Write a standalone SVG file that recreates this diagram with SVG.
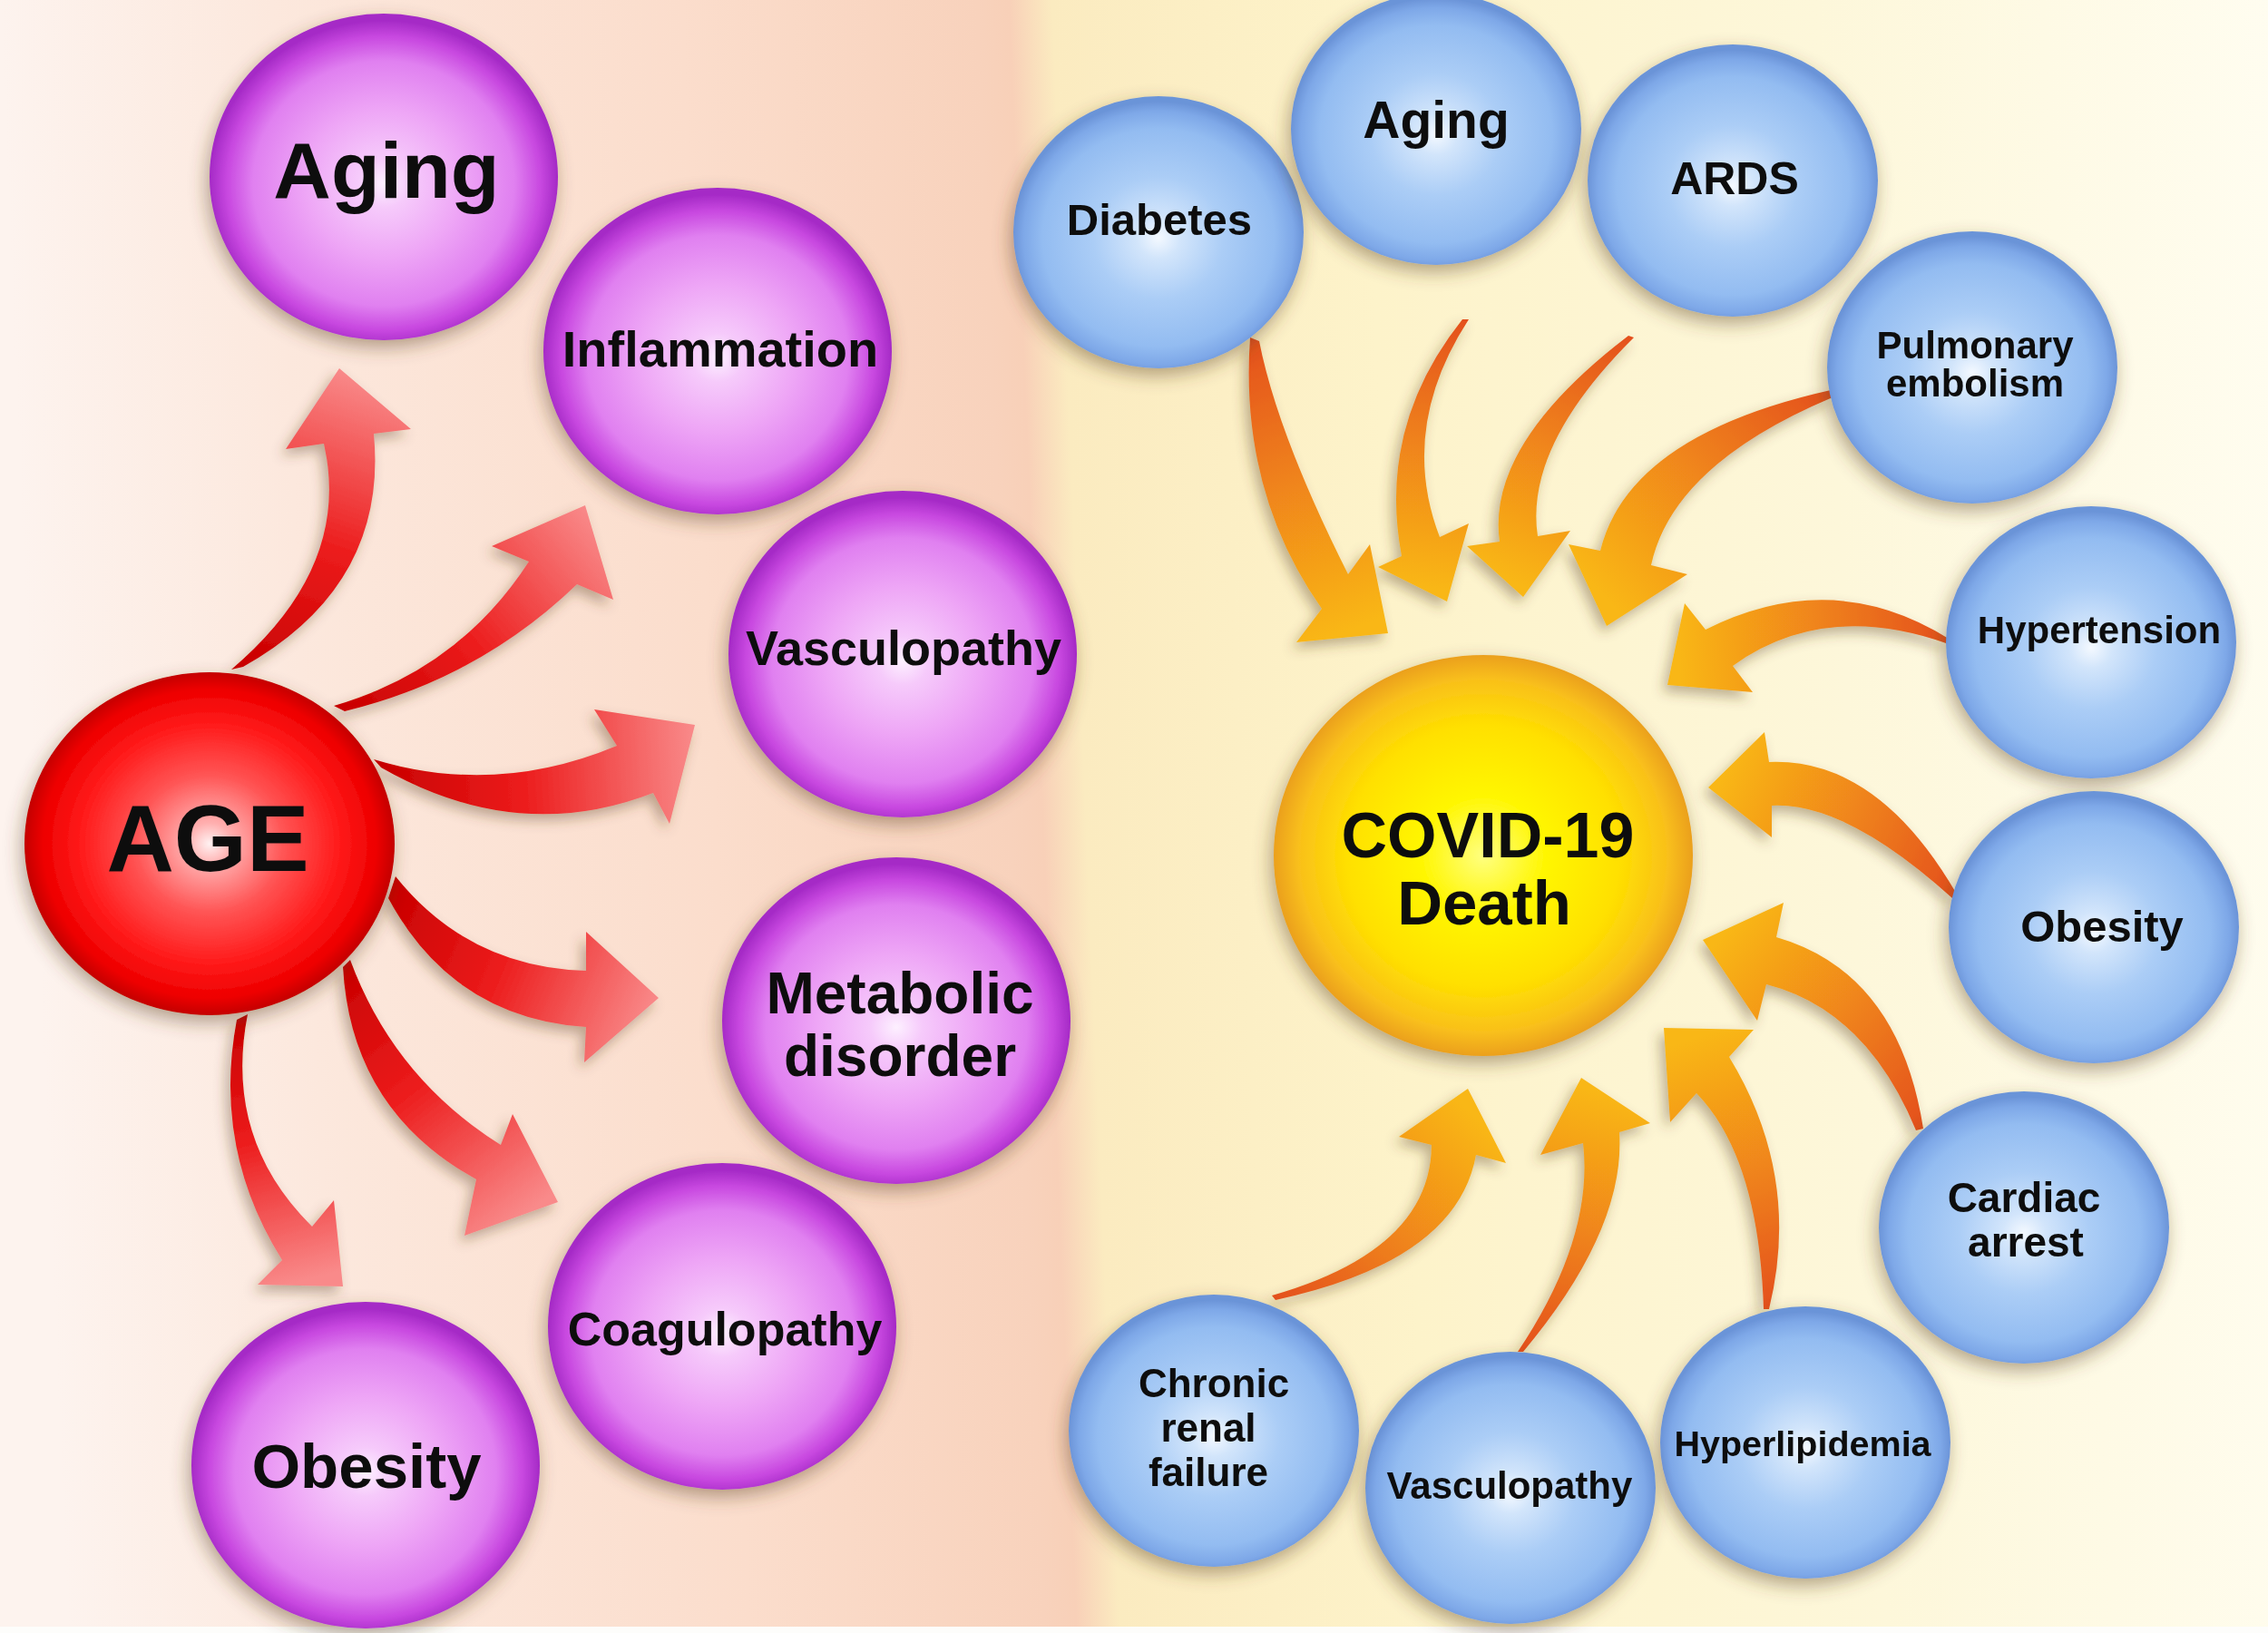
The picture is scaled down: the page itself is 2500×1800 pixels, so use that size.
<svg xmlns="http://www.w3.org/2000/svg" width="2500" height="1800" viewBox="0 0 2500 1800">
<defs>
<style>
.t{font-family:"Liberation Sans",Arial,sans-serif;font-weight:bold;text-anchor:middle;fill:#111}
.pu{fill:url(#gPurple)}
.bl{fill:url(#gBlue)}
</style>
<linearGradient id="bg" gradientUnits="userSpaceOnUse" x1="0" y1="0" x2="2500" y2="-104">
<stop offset="0" stop-color="#fdf3ee"/>
<stop offset="0.12" stop-color="#fce8dd"/>
<stop offset="0.3" stop-color="#fbddcc"/>
<stop offset="0.43" stop-color="#f8d2bc"/>
<stop offset="0.444" stop-color="#f8d0b8"/>
<stop offset="0.463" stop-color="#fbebc0"/>
<stop offset="0.6" stop-color="#fdf3ca"/>
<stop offset="0.8" stop-color="#fdf7da"/>
<stop offset="1" stop-color="#fffdf0"/>
</linearGradient>
<radialGradient id="gPurple" cx="0.5" cy="0.52" r="0.5">
<stop offset="0" stop-color="#fdf0ff"/>
<stop offset="0.15" stop-color="#f6cafb"/>
<stop offset="0.45" stop-color="#eea6f6"/>
<stop offset="0.75" stop-color="#e080f0"/>
<stop offset="0.9" stop-color="#c848e0"/>
<stop offset="1" stop-color="#a52ac6"/>
</radialGradient>
<radialGradient id="gBlue" cx="0.5" cy="0.52" r="0.5">
<stop offset="0" stop-color="#f4f9ff"/>
<stop offset="0.15" stop-color="#d2e5fb"/>
<stop offset="0.45" stop-color="#abcdf6"/>
<stop offset="0.8" stop-color="#93bcf1"/>
<stop offset="0.93" stop-color="#7ea8e8"/>
<stop offset="1" stop-color="#6b94d8"/>
</radialGradient>
<radialGradient id="gYellow" cx="0.5" cy="0.5" r="0.5">
<stop offset="0" stop-color="#ffff80"/>
<stop offset="0.3" stop-color="#fff600"/>
<stop offset="0.65" stop-color="#ffe000"/>
<stop offset="0.88" stop-color="#f9c01a"/>
<stop offset="1" stop-color="#eba01c"/>
</radialGradient>
<radialGradient id="gRed" cx="0.5" cy="0.5" r="0.5">
<stop offset="0" stop-color="#fff2f2"/>
<stop offset="0.12" stop-color="#ffb0b0"/>
<stop offset="0.4" stop-color="#ff5555"/>
<stop offset="0.7" stop-color="#ff1a1a"/>
<stop offset="0.9" stop-color="#ee0000"/>
<stop offset="1" stop-color="#c40000"/>
</radialGradient>
<filter id="sh" x="-25%" y="-25%" width="150%" height="150%">
<feGaussianBlur in="SourceAlpha" stdDeviation="10"/>
<feOffset dx="-3" dy="8" result="b"/>
<feFlood flood-color="#5a4020" flood-opacity="0.45"/>
<feComposite in2="b" operator="in"/>
<feMerge><feMergeNode/><feMergeNode in="SourceGraphic"/></feMerge>
</filter>
<filter id="ash" x="-30%" y="-30%" width="160%" height="160%">
<feGaussianBlur in="SourceAlpha" stdDeviation="7"/>
<feOffset dx="-5" dy="7" result="b"/>
<feFlood flood-color="#5a4020" flood-opacity="0.38"/>
<feComposite in2="b" operator="in"/>
<feMerge><feMergeNode/><feMergeNode in="SourceGraphic"/></feMerge>
</filter>
<linearGradient id="gL1" gradientUnits="userSpaceOnUse" x1="262" y1="736" x2="374" y2="406"><stop offset="0" stop-color="#c80000"/><stop offset="0.45" stop-color="#ec1c1c"/><stop offset="1" stop-color="#f98a8a"/></linearGradient>
<linearGradient id="gL2" gradientUnits="userSpaceOnUse" x1="374" y1="781" x2="645" y2="557"><stop offset="0" stop-color="#c80000"/><stop offset="0.45" stop-color="#ec1c1c"/><stop offset="1" stop-color="#f98a8a"/></linearGradient>
<linearGradient id="gL3" gradientUnits="userSpaceOnUse" x1="416" y1="841" x2="766" y2="820"><stop offset="0" stop-color="#c80000"/><stop offset="0.45" stop-color="#ec1c1c"/><stop offset="1" stop-color="#f98a8a"/></linearGradient>
<linearGradient id="gL4" gradientUnits="userSpaceOnUse" x1="432" y1="978" x2="726" y2="1100"><stop offset="0" stop-color="#c80000"/><stop offset="0.45" stop-color="#ec1c1c"/><stop offset="1" stop-color="#f98a8a"/></linearGradient>
<linearGradient id="gL5" gradientUnits="userSpaceOnUse" x1="382" y1="1062" x2="590" y2="1330"><stop offset="0" stop-color="#c80000"/><stop offset="0.45" stop-color="#ec1c1c"/><stop offset="1" stop-color="#f98a8a"/></linearGradient>
<linearGradient id="gL6" gradientUnits="userSpaceOnUse" x1="267" y1="1121" x2="340" y2="1410"><stop offset="0" stop-color="#c80000"/><stop offset="0.45" stop-color="#ec1c1c"/><stop offset="1" stop-color="#f98a8a"/></linearGradient>
<linearGradient id="gR1" gradientUnits="userSpaceOnUse" x1="1383" y1="374" x2="1500" y2="690"><stop offset="0" stop-color="#e4501c"/><stop offset="0.5" stop-color="#f0861a"/><stop offset="1" stop-color="#f9b718"/></linearGradient>
<linearGradient id="gR2" gradientUnits="userSpaceOnUse" x1="1615" y1="352" x2="1580" y2="650"><stop offset="0" stop-color="#e4501c"/><stop offset="0.5" stop-color="#f0861a"/><stop offset="1" stop-color="#f9b718"/></linearGradient>
<linearGradient id="gR3" gradientUnits="userSpaceOnUse" x1="1798" y1="371" x2="1675" y2="645"><stop offset="0" stop-color="#e4501c"/><stop offset="0.5" stop-color="#f0861a"/><stop offset="1" stop-color="#f9b718"/></linearGradient>
<linearGradient id="gR4" gradientUnits="userSpaceOnUse" x1="2019" y1="434" x2="1780" y2="670"><stop offset="0" stop-color="#e4501c"/><stop offset="0.5" stop-color="#f0861a"/><stop offset="1" stop-color="#f9b718"/></linearGradient>
<linearGradient id="gR5" gradientUnits="userSpaceOnUse" x1="2148" y1="707" x2="1850" y2="730"><stop offset="0" stop-color="#e4501c"/><stop offset="0.5" stop-color="#f0861a"/><stop offset="1" stop-color="#f9b718"/></linearGradient>
<linearGradient id="gR6" gradientUnits="userSpaceOnUse" x1="2154" y1="987" x2="1895" y2="862"><stop offset="0" stop-color="#e4501c"/><stop offset="0.5" stop-color="#f0861a"/><stop offset="1" stop-color="#f9b718"/></linearGradient>
<linearGradient id="gR7" gradientUnits="userSpaceOnUse" x1="2116" y1="1245" x2="1890" y2="1040"><stop offset="0" stop-color="#e4501c"/><stop offset="0.5" stop-color="#f0861a"/><stop offset="1" stop-color="#f9b718"/></linearGradient>
<linearGradient id="gR8" gradientUnits="userSpaceOnUse" x1="1947" y1="1443" x2="1850" y2="1150"><stop offset="0" stop-color="#e4501c"/><stop offset="0.5" stop-color="#f0861a"/><stop offset="1" stop-color="#f9b718"/></linearGradient>
<linearGradient id="gR9" gradientUnits="userSpaceOnUse" x1="1676" y1="1490" x2="1750" y2="1200"><stop offset="0" stop-color="#e4501c"/><stop offset="0.5" stop-color="#f0861a"/><stop offset="1" stop-color="#f9b718"/></linearGradient>
<linearGradient id="gR10" gradientUnits="userSpaceOnUse" x1="1404" y1="1430" x2="1610" y2="1215"><stop offset="0" stop-color="#e4501c"/><stop offset="0.5" stop-color="#f0861a"/><stop offset="1" stop-color="#f9b718"/></linearGradient>
</defs>

<rect x="0" y="0" width="2500" height="1800" fill="url(#bg)"/>
<rect x="0" y="1793" width="2500" height="7" fill="#fdfdfb"/>

<g id="connectors" filter="url(#ash)">
<path fill="url(#gL1)" d="M255,738 Q388,625 357,489 L315,495 L374,406 L453,473 L412,478 Q428,645 268,735 Z"/>
<path fill="url(#gL2)" d="M368,778 Q506,738 583,619 L542,602 L645,557 L676,661 L636,644 Q528,748 380,784 Z"/>
<path fill="url(#gL3)" d="M412,837 Q546,878 680,822 L655,782 L766,799 L738,908 L720,874 Q570,932 420,846 Z"/>
<path fill="url(#gL4)" d="M436,966 Q516,1066 646,1070 L646,1027 L726,1100 L644,1171 L646,1132 Q499,1122 428,990 Z"/>
<path fill="url(#gL5)" d="M386,1058 Q434,1188 552,1262 L565,1228 L615,1325 L512,1362 L525,1300 Q387,1224 378,1066 Z"/>
<path fill="url(#gL6)" d="M273,1118 Q246,1255 344,1352 L368,1323 L378,1418 L284,1416 L311,1389 Q234,1266 261,1124 Z"/>
<path fill="url(#gR1)" d="M1378,372 Q1366,542 1457,671 L1429,708 L1530,698 L1510,600 L1486,633 Q1408,478 1388,376 Z"/>
<path fill="url(#gR2)" d="M1612,352 Q1518,470 1545,613 L1519,625 L1595,663 L1619,577 L1587,592 Q1541,472 1619,352 Z"/>
<path fill="url(#gR3)" d="M1795,370 Q1638,490 1653,597 L1617,602 L1679,658 L1731,585 L1695,591 Q1680,492 1801,372 Z"/>
<path fill="url(#gR4)" d="M2018,430 Q1795,480 1764,607 L1729,600 L1771,690 L1860,633 L1820,623 Q1844,512 2020,438 Z"/>
<path fill="url(#gR5)" d="M2148,704 Q2020,624 1880,694 L1857,665 L1838,755 L1932,763 L1910,734 Q2011,661 2148,710 Z"/>
<path fill="url(#gR6)" d="M2156,984 Q2069,835 1950,840 L1945,807 L1883,868 L1953,923 L1953,888 Q2035,884 2152,990 Z"/>
<path fill="url(#gR7)" d="M2120,1244 Q2093,1072 1958,1033 L1966,995 L1877,1036 L1937,1125 L1947,1085 Q2057,1113 2112,1246 Z"/>
<path fill="url(#gR8)" d="M1950,1443 Q1986,1296 1906,1165 L1933,1135 L1834,1133 L1841,1237 L1870,1205 Q1939,1276 1944,1443 Z"/>
<path fill="url(#gR9)" d="M1679,1490 Q1792,1355 1785,1248 L1819,1238 L1743,1188 L1698,1273 L1745,1260 Q1757,1365 1673,1490 Z"/>
<path fill="url(#gR10)" d="M1402,1428 Q1577,1378 1578,1262 L1542,1253 L1618,1200 L1660,1282 L1627,1273 Q1606,1390 1406,1433 Z"/>
</g>

<g id="node-age" filter="url(#sh)">
<ellipse cx="231" cy="930" rx="204" ry="189" fill="url(#gRed)"/>
<text class="t" x="229" y="960" font-size="103">AGE</text>
</g>
<g id="node-aging-l" filter="url(#sh)">
<ellipse class="pu" cx="423" cy="195" rx="192" ry="180"/>
<text class="t" x="426" y="218" font-size="88">Aging</text>
</g>
<g id="node-inflammation" filter="url(#sh)">
<ellipse class="pu" cx="791" cy="387" rx="192" ry="180"/>
<text class="t" x="794" y="404" font-size="56">Inflammation</text>
</g>
<g id="node-vasculopathy-l" filter="url(#sh)">
<ellipse class="pu" cx="995" cy="721" rx="192" ry="180"/>
<text class="t" x="996" y="733" font-size="54">Vasculopathy</text>
</g>
<g id="node-metabolic" filter="url(#sh)">
<ellipse class="pu" cx="988" cy="1125" rx="192" ry="180"/>
<text class="t" x="992" y="1117" font-size="64">Metabolic</text>
<text class="t" x="992" y="1186" font-size="64">disorder</text>
</g>
<g id="node-coagulopathy" filter="url(#sh)">
<ellipse class="pu" cx="796" cy="1462" rx="192" ry="180"/>
<text class="t" x="799" y="1483" font-size="52">Coagulopathy</text>
</g>
<g id="node-obesity-l" filter="url(#sh)">
<ellipse class="pu" cx="403" cy="1615" rx="192" ry="180"/>
<text class="t" x="404" y="1640" font-size="69">Obesity</text>
</g>

<g id="node-covid" filter="url(#sh)">
<ellipse cx="1635" cy="943" rx="231" ry="221" fill="url(#gYellow)"/>
<text class="t" x="1640" y="945" font-size="70">COVID-19</text>
<text class="t" x="1636" y="1019" font-size="69">Death</text>
</g>
<g id="node-diabetes" filter="url(#sh)">
<ellipse class="bl" cx="1277" cy="256" rx="160" ry="150"/>
<text class="t" x="1278" y="259" font-size="49">Diabetes</text>
</g>
<g id="node-aging-r" filter="url(#sh)">
<ellipse class="bl" cx="1583" cy="142" rx="160" ry="150"/>
<text class="t" x="1583" y="152" font-size="57">Aging</text>
</g>
<g id="node-ards" filter="url(#sh)">
<ellipse class="bl" cx="1910" cy="199" rx="160" ry="150"/>
<text class="t" x="1912" y="214" font-size="50">ARDS</text>
</g>
<g id="node-pulmonary" filter="url(#sh)">
<ellipse class="bl" cx="2174" cy="405" rx="160" ry="150"/>
<text class="t" x="2177" y="395" font-size="42">Pulmonary</text>
<text class="t" x="2177" y="437" font-size="42">embolism</text>
</g>
<g id="node-hypertension" filter="url(#sh)">
<ellipse class="bl" cx="2305" cy="708" rx="160" ry="150"/>
<text class="t" x="2314" y="709" font-size="42">Hypertension</text>
</g>
<g id="node-obesity-r" filter="url(#sh)">
<ellipse class="bl" cx="2308" cy="1022" rx="160" ry="150"/>
<text class="t" x="2317" y="1038" font-size="49">Obesity</text>
</g>
<g id="node-cardiac" filter="url(#sh)">
<ellipse class="bl" cx="2231" cy="1353" rx="160" ry="150"/>
<text class="t" x="2231" y="1336" font-size="46">Cardiac</text>
<text class="t" x="2233" y="1385" font-size="46">arrest</text>
</g>
<g id="node-hyperlipidemia" filter="url(#sh)">
<ellipse class="bl" cx="1990" cy="1590" rx="160" ry="150"/>
<text class="t" x="1987" y="1605" font-size="39.5">Hyperlipidemia</text>
</g>
<g id="node-vasculopathy-r" filter="url(#sh)">
<ellipse class="bl" cx="1665" cy="1640" rx="160" ry="150"/>
<text class="t" x="1664" y="1652" font-size="42">Vasculopathy</text>
</g>
<g id="node-chronic" filter="url(#sh)">
<ellipse class="bl" cx="1338" cy="1577" rx="160" ry="150"/>
<text class="t" x="1338" y="1540" font-size="44">Chronic</text>
<text class="t" x="1332" y="1589" font-size="44">renal</text>
<text class="t" x="1332" y="1638" font-size="44">failure</text>
</g>
</svg>
